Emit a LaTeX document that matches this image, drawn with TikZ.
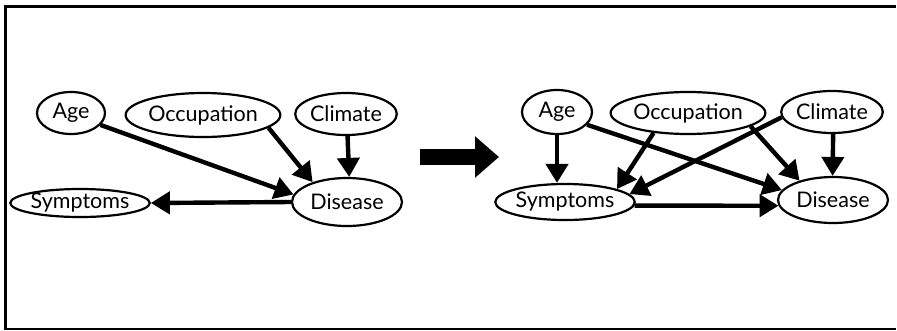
\documentclass[tikz,border=0pt]{standalone}
\usepackage{fontspec}
\setmainfont{Lato}
\usetikzlibrary{shapes.geometric,arrows.meta}
\tikzset{
  var/.style={ellipse,draw=black,line width=2.2pt,fill=white,inner sep=0pt,font=\fontsize{21.5}{22}\selectfont},
  edge/.style={line width=4.4pt,-{Triangle[length=19pt,width=22pt]}},
}
\begin{document}
\begin{tikzpicture}[x=1pt,y=-1pt]
\fill[white] (0,0) rectangle (897,330);
\useasboundingbox (0,0) rectangle (897,330);
\draw[line width=3pt] (5.5,330) -- (5.5,6.5) -- (896,6.5);
\draw[line width=2pt] (5.5,329) -- (896,329);
% left diagram
\node[var,minimum width=68pt,minimum height=42pt] (age) at (71,113) {Age};
\node[var,minimum width=150pt,minimum height=44pt] (occ) at (203,115) {Occupation};
\node[var,minimum width=98pt,minimum height=42pt] (cli) at (346,114) {Climate};
\node[var,minimum width=110pt,minimum height=48pt] (dis) at (347,202) {Disease};
\node[var,minimum width=136pt,minimum height=28pt] (sym) at (80,203) {Symptoms};
\draw[edge] (age.-22) -- (dis.172);
\draw[edge] (occ.-11) -- (dis.150);
\draw[edge] (cli.-86) -- (dis.85);
\draw[edge] (dis.west) -- (sym.east);
% big arrow
\coordinate (ba) at (420,157);
\coordinate (bb) at (499,157);
\draw[line width=16pt,-{Triangle[length=24pt,width=40pt]}] (ba) -- (bb);
% right diagram
\node[var,minimum width=70pt,minimum height=44pt] (age2) at (557,112) {Age};
\node[var,minimum width=150pt,minimum height=42pt] (occ2) at (688,113) {Occupation};
\node[var,minimum width=98pt,minimum height=42pt] (cli2) at (832,112) {Climate};
\node[var,minimum width=136pt,minimum height=36pt] (sym2) at (565,202) {Symptoms};
\node[var,minimum width=110pt,minimum height=46pt] (dis2) at (833,200) {Disease};
\draw[edge] (age2.south) -- (age2.south |- sym2.north);
\draw[edge] (age2.-23) -- (dis2.169);
\draw[edge] (occ2.210) -- (sym2.14);
\draw[edge] (occ2.-12) -- (dis2.150);
\draw[edge] (cli2.186) -- (sym2.7);
\draw[edge] (cli2.-87) -- (dis2.91);
\draw[edge] (sym2.-3.5) -- (dis2.186);
\end{tikzpicture}
\end{document}
